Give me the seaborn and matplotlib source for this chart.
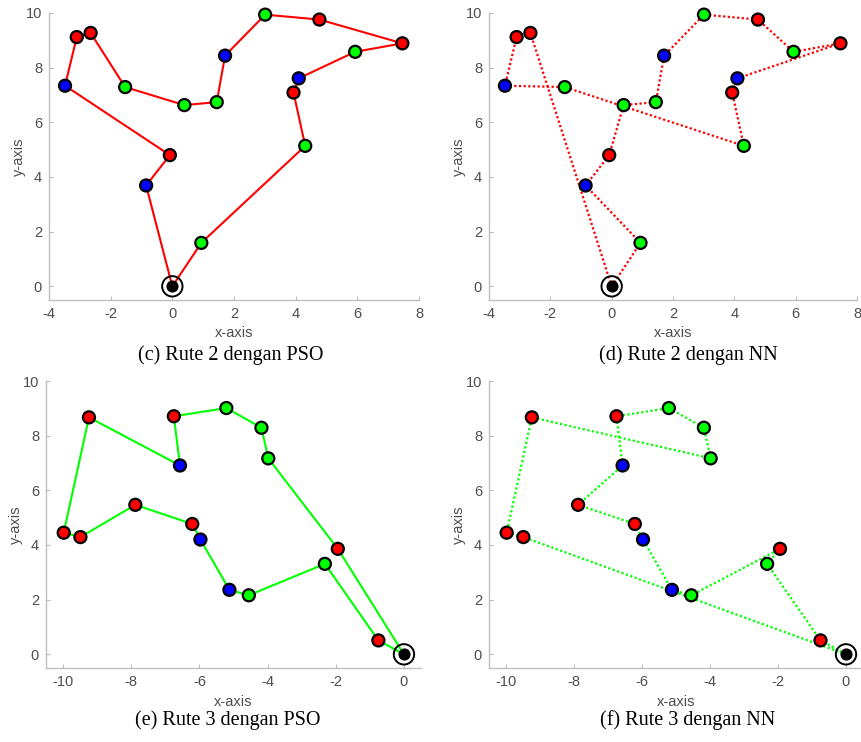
import matplotlib
matplotlib.use("Agg")
import matplotlib.pyplot as plt
import seaborn as sns
import pandas as pd

# ---------------- data ----------------
# Route 2 nodes (index 0 = depot)
r2_x = [0.00, 0.94, 4.31, 3.93, 4.10, 5.93, 7.46, 4.77, 3.01, 1.71, 1.44, 0.39, -1.53, -2.65, -3.10, -3.48, -0.08, -0.85]
r2_y = [0.00, 1.59, 5.14, 7.09, 7.61, 8.58, 8.89, 9.76, 9.94, 8.44, 6.74, 6.63, 7.29, 9.27, 9.12, 7.34, 4.80, 3.69]
r2_type = ["depot", "g", "g", "r", "b", "g", "r", "r", "g", "b", "g", "g", "g", "r", "r", "b", "r", "b"]
r2_pso_order = [0, 17, 16, 15, 14, 13, 12, 11, 10, 9, 8, 7, 6, 5, 4, 3, 2, 1, 0]
r2_nn_order = [0, 1, 17, 16, 11, 10, 9, 8, 7, 5, 6, 4, 3, 2, 12, 15, 14, 13, 0]

# Route 3 nodes (index 0 = depot)
r3_x = [0.00, -0.75, -2.32, -1.94, -3.98, -4.18, -5.21, -6.75, -6.57, -9.24, -9.98, -9.49, -7.88, -6.21, -5.97, -5.12, -4.55]
r3_y = [0.00, 0.51, 3.31, 3.86, 7.17, 8.29, 9.01, 8.71, 6.91, 8.67, 4.45, 4.29, 5.47, 4.77, 4.20, 2.36, 2.16]
r3_type = ["depot", "r", "g", "r", "g", "g", "g", "r", "b", "r", "r", "r", "r", "r", "b", "b", "g"]
r3_pso_order = [0, 1, 2, 16, 15, 14, 13, 12, 11, 10, 9, 8, 7, 6, 5, 4, 3, 0]
r3_nn_order = [0, 1, 2, 3, 16, 15, 14, 13, 12, 8, 7, 6, 5, 4, 9, 10, 11, 0]

captions = ["(c) Rute 2 dengan PSO", "(d) Rute 2 dengan NN",
            "(e) Rute 3 dengan PSO", "(f) Rute 3 dengan NN"]
x_ticks_r2 = [-4, -2, 0, 2, 4, 6, 8]
x_ticks_r3 = [-10, -8, -6, -4, -2, 0]
y_ticks = [0, 2, 4, 6, 8, 10]

# ---------------- style ----------------
sns.set_theme(style="white")
plt.rcParams["font.family"] = ["Liberation Sans", "DejaVu Sans"]
plt.rcParams["axes.unicode_minus"] = False

W, H = 861, 742
fig = plt.figure(figsize=(W / 100, H / 100), dpi=100)

node_pal = {"r": "#ff0000", "g": "#00ff00", "b": "#0000ff", "depot": "#000000"}
spine_c = "#bdbdbd"
text_c = "#4d4d4d"


def px_axes(left, top, right, bottom):
    return fig.add_axes([left / W, 1 - bottom / H, (right - left) / W, (bottom - top) / H])


def draw(ax, xs, ys, types, order, color, dotted, xlim, xticks):
    route = pd.DataFrame({"x": [xs[i] for i in order],
                          "y": [ys[i] for i in order],
                          "step": range(len(order))})
    ls = (0, (1, 1.1)) if dotted else "-"
    sns.lineplot(data=route, x="x", y="y", sort=False, estimator=None,
                 color=color, lw=1.6 if dotted else 1.5, linestyle=ls, ax=ax, zorder=2)
    nodes = pd.DataFrame({"x": xs, "y": ys, "type": types})
    cust = nodes[nodes["type"] != "depot"]
    dep = nodes[nodes["type"] == "depot"]
    sns.scatterplot(data=cust, x="x", y="y", hue="type", palette=node_pal,
                    s=75, edgecolor="black", linewidth=1.6, legend=False, ax=ax,
                    zorder=3, clip_on=False)
    sns.scatterplot(data=dep, x="x", y="y", s=215, facecolor="none",
                    edgecolor="black", linewidth=1.4, legend=False, ax=ax, zorder=3,
                    clip_on=False)
    sns.scatterplot(data=dep, x="x", y="y", s=60, color="black",
                    edgecolor="black", linewidth=1.0, legend=False, ax=ax, zorder=4,
                    clip_on=False)
    ax.set_xlim(*xlim)
    ax.set_ylim(-0.5, 10)
    ax.set_xticks(xticks)
    ax.set_yticks(y_ticks)
    ax.set_xlabel("x-axis", fontsize=10.5, color=text_c, labelpad=4)
    ax.set_ylabel("y-axis", fontsize=10.5, color=text_c, labelpad=0)
    for s in ["top", "right"]:
        ax.spines[s].set_visible(False)
    for s in ["left", "bottom"]:
        ax.spines[s].set_color(spine_c)
        ax.spines[s].set_linewidth(1.0)
    ax.tick_params(direction="in", length=3, width=0.8, color=spine_c,
                   labelsize=10.5, labelcolor=text_c, pad=5,
                   bottom=True, left=True)
    ax.set_facecolor("white")


ax1 = px_axes(49, 13, 419, 300)
draw(ax1, r2_x, r2_y, r2_type, r2_pso_order, "#ff0000", False, (-4, 8), x_ticks_r2)
ax2 = px_axes(489, 13, 857, 300)
draw(ax2, r2_x, r2_y, r2_type, r2_nn_order, "#ff0000", True, (-4, 8), x_ticks_r2)
ax3 = px_axes(46, 381, 421, 668)
draw(ax3, r3_x, r3_y, r3_type, r3_pso_order, "#00ff00", False, (-10.5, 0.5), x_ticks_r3)
ax4 = px_axes(489, 381, 863, 668)
draw(ax4, r3_x, r3_y, r3_type, r3_nn_order, "#00ff00", True, (-10.5, 0.5), x_ticks_r3)

cap_pos = [(231, 355), (688, 355), (228, 720), (688, 720)]
for (cx, cy), t in zip(cap_pos, captions):
    fig.text(cx / W, 1 - cy / H, t, ha="center", va="center", fontsize=14.5,
             family=["Liberation Serif", "DejaVu Serif"], color="black")

fig.savefig("out.png", dpi=100, facecolor="white")
